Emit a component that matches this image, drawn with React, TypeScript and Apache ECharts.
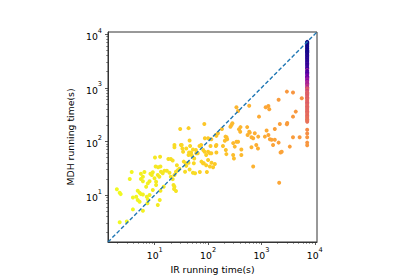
import React, { useEffect, useRef } from "react";
import * as echarts from "echarts";

// IR running time (s), MDH running time (s), colour value (0..1 on plasma_r)
const scatterPoints: [number, number, number][] = [
  [2.2, 3.1, 0], [3.0, 3.2, 0], [1.95, 12.8, 0], [2.2, 11, 0], [2.3, 10.4, 0], [3.7, 27, 0.01], [3.4, 20, 0.01],
  [3.9, 9, 0.01], [3.9, 5.4, 0], [4.8, 12, 0.01], [5.2, 11, 0.01], [5.5, 10.4, 0.01], [6, 10.2, 0.02], [4.8, 8.1, 0.01],
  [5.2, 7.5, 0.01], [5.5, 25, 0.02], [6, 22, 0.02], [6.4, 27, 0.02], [5.5, 20, 0.02], [6, 18, 0.02], [6.9, 14.3, 0.02],
  [7.4, 16.5, 0.02], [8, 18, 0.03], [7.1, 9.3, 0.02], [8, 10, 0.02], [7.4, 8.3, 0.02], [8.3, 25, 0.03], [9.2, 26.5, 0.03],
  [8.8, 23.7, 0.03], [9.9, 20.5, 0.03], [10.6, 17.7, 0.03], [11.4, 23.7, 0.04], [12.2, 22, 0.04], [10.6, 15.4, 0.03],
  [9.2, 12.4, 0.03], [13.1, 27.3, 0.04], [14.1, 25.4, 0.04], [15.2, 28.5, 0.05], [10.1, 50, 0.04], [12.6, 52, 0.05],
  [12.8, 12, 0.04], [14.7, 14.3, 0.04], [6, 5.1, 0.02], [4.5, 9.3, 0.01], [7.3, 7, 0.02], [11.6, 33, 0.04], [10.4, 34, 0.04],
  [12.8, 34, 0.04], [12.4, 8.1, 0.03], [11.4, 6.5, 0.03],
  [16.9, 28.5, 0.05], [18.9, 26, 0.05], [18, 47, 0.06], [20, 47, 0.06], [21.7, 44, 0.06], [20, 22, 0.05], [21.7, 19.8, 0.05],
  [23.4, 23.7, 0.06], [22.5, 15.4, 0.05], [23.4, 14.3, 0.05], [23.4, 86, 0.07], [23.4, 78, 0.07], [25, 27.3, 0.06],
  [27, 29, 0.06], [29, 31, 0.06], [26, 36, 0.06], [32, 86, 0.08], [38.5, 39, 0.07], [37, 27.3, 0.07], [45, 104, 0.09],
  [46, 82, 0.08], [43, 56, 0.08], [48, 62, 0.08], [55, 48, 0.08], [57, 25.4, 0.07], [52, 71, 0.08], [59, 69, 0.09],
  [23, 13, 0.05], [25, 11.9, 0.05], [31, 86, 0.08], [33, 74, 0.08], [34, 64, 0.08], [39, 74, 0.08], [44, 62, 0.08],
  [49, 56, 0.08], [35, 42, 0.07], [39, 35, 0.07], [43, 40, 0.07], [54, 39, 0.08], [45, 30, 0.07], [52, 26, 0.07],
  [30, 170, 0.09], [43, 177, 0.1],
  [64, 60, 0.09], [69, 82, 0.1], [74, 86, 0.1], [86, 64, 0.1], [92, 56, 0.1], [80, 39, 0.09], [92, 36, 0.1], [60, 60, 0.09],
  [75, 42, 0.09], [83, 39, 0.1], [100, 45, 0.1], [81, 69, 0.1], [100, 64, 0.11], [115, 60, 0.11], [70, 27, 0.09],
  [95, 27, 0.1], [108, 34, 0.1], [87, 115, 0.11], [100, 115, 0.11], [115, 110, 0.12], [85, 212, 0.12], [111, 82, 0.11],
  [140, 82, 0.12], [143, 127, 0.12], [108, 60, 0.11], [143, 62, 0.12], [116, 40, 0.11], [134, 38, 0.11], [124, 33, 0.11],
  [140, 132, 0.12], [143, 86, 0.12],
  [190, 82, 0.13], [212, 123, 0.14], [228, 110, 0.14], [206, 103, 0.14], [215, 69, 0.13], [220, 58, 0.13], [295, 93, 0.15],
  [316, 80, 0.15], [340, 99, 0.15], [295, 56, 0.14], [305, 48, 0.14], [420, 71, 0.15], [420, 56, 0.15], [275, 203, 0.15],
  [285, 219, 0.15], [380, 168, 0.16], [400, 152, 0.16], [340, 435, 0.16], [365, 370, 0.16], [153, 142, 0.13],
  [182, 170, 0.14], [222, 120, 0.14], [262, 188, 0.15], [405, 185, 0.16], [365, 99, 0.15],
  [590, 465, 0.17], [540, 185, 0.17], [605, 146, 0.17], [750, 142, 0.18], [650, 78, 0.17], [800, 86, 0.18], [860, 74, 0.18],
  [700, 34, 0.17], [900, 290, 0.19], [1200, 435, 0.2], [1350, 460, 0.2], [1400, 400, 0.2], [1160, 123, 0.19],
  [1250, 160, 0.19], [1350, 132, 0.2], [1440, 110, 0.2], [550, 132, 0.17], [650, 120, 0.17], [870, 123, 0.18],
  [590, 152, 0.17], [700, 115, 0.18],
  [1780, 107, 0.21], [2100, 95, 0.22], [1650, 86, 0.21], [1780, 170, 0.22], [2210, 212, 0.22], [3050, 220, 0.23],
  [2280, 62, 0.21], [2150, 17, 0.2], [3000, 850, 0.24], [3900, 820, 0.25], [4400, 360, 0.24], [3900, 290, 0.24],
  [5700, 640, 0.26], [3000, 210, 0.23], [3900, 120, 0.23], [5200, 120, 0.24], [3400, 80, 0.22], [2100, 600, 0.23],
  [1550, 107, 0.21], [2400, 64, 0.21],
];

// instances where IR hit the time limit
const timeoutIR = 7200;
const timeoutMDH: number[] = [
  7200, 7000, 6700, 6500, 6300, 6000, 5800, 5500, 5300, 5000, 4800, 4600, 4400, 4200, 4000, 3800, 3650, 3500, 3300,
  3150, 3000, 2850, 2700, 2550, 2400, 2300, 2150, 2050, 1950, 1850, 1750, 1650, 1580, 1500, 1420, 1350, 1280, 1220,
  1150, 1090, 1030, 980, 930, 880, 830, 790, 750, 710, 670, 640, 600, 570, 540, 510, 480, 455, 430, 405, 385, 365, 345,
  325, 305, 290, 275, 260, 245, 232, 165, 140, 120, 95, 85,
];
const timeoutColor: number[] = [
  1, 1, 1, 0.98, 1, 0.98, 1, 0.97, 1, 0.98, 0.97, 1, 0.96, 0.98, 0.97, 0.95, 0.97, 0.94, 0.96,
  0.93, 0.95, 0.9, 0.94, 0.92, 0.88, 0.92, 0.66, 0.9, 0.84, 0.88, 0.8, 0.75, 0.82, 0.7, 0.66, 0.72, 0.6, 0.64,
  0.62, 0.56, 0.6, 0.45, 0.42, 0.5, 0.4, 0.43, 0.41, 0.44, 0.4, 0.42, 0.39, 0.41, 0.4, 0.43, 0.4, 0.38, 0.41, 0.39,
  0.4, 0.38, 0.4, 0.37, 0.39, 0.38, 0.36, 0.37, 0.35, 0.36, 0.28, 0.27, 0.25, 0.25, 0.24,
];

const axisMin = 1.33;
const axisMax = 11000;
const majorTicks = [10, 100, 1000, 10000];
const minorTicks = [
  2, 3, 4, 5, 6, 7, 8, 9, 20, 30, 40, 50, 60, 70, 80, 90, 200, 300, 400, 500, 600, 700, 800, 900,
  2000, 3000, 4000, 5000, 6000, 7000, 8000, 9000,
];
const plasmaR = [
  "#f0f921", "#fcce25", "#fca636", "#f2844b", "#e16462", "#cc4778", "#b12a90", "#8f0da4", "#6a00a8", "#41049d", "#0d0887",
];

const FONT = "DejaVu Sans";
const FS = 9.3;

export default function App() {
  const ref = useRef<HTMLDivElement>(null);
  useEffect(() => {
    document.body.style.margin = "0";
    if (!ref.current) return;
    const chart = echarts.init(ref.current, undefined, { renderer: "svg" });
    const timeoutPoints = timeoutMDH.map((y, i) => [timeoutIR, y, timeoutColor[i]]);
    const labelFmt = (v: number) => `{b|10}{s|${Math.round(Math.log10(v))}}`;
    const rich = {
      b: { fontFamily: FONT, fontSize: FS, color: "#000", lineHeight: 14, verticalAlign: "bottom" },
      s: { fontFamily: FONT, fontSize: 6.6, color: "#000", lineHeight: 8, verticalAlign: "top" },
    };
    const lineColor = "#333";
    const mainAxis = (pos: string, name: string, nameGap: number) => ({
      type: "log",
      logBase: 10,
      min: axisMin,
      max: axisMax,
      position: pos,
      name,
      nameLocation: "middle",
      nameGap,
      nameTextStyle: { fontFamily: FONT, fontSize: FS, color: "#000" },
      axisLine: { show: true, lineStyle: { color: lineColor, width: 1 } },
      axisTick: { show: true, inside: false, length: 3, customValues: majorTicks, lineStyle: { color: lineColor, width: 0.8 } },
      minorTick: { show: false },
      splitLine: { show: false },
      axisLabel: {
        customValues: majorTicks,
        formatter: labelFmt,
        rich,
        margin: pos === "left" ? 6 : 4,
      },
    });
    const minorAxis = (pos: string) => ({
      type: "log",
      logBase: 10,
      min: axisMin,
      max: axisMax,
      position: pos,
      axisLine: { show: false },
      axisTick: { show: true, inside: false, length: 1.8, customValues: minorTicks, lineStyle: { color: lineColor, width: 0.6 } },
      axisLabel: { show: false },
      splitLine: { show: false },
    });
    chart.setOption({
      animation: false,
      grid: {
        left: 108,
        top: 32,
        width: 209,
        height: 210,
        show: true,
        borderColor: lineColor,
        borderWidth: 1,
        backgroundColor: "transparent",
        containLabel: false,
        outerBoundsMode: "none",
      },
      xAxis: [mainAxis("bottom", "IR running time(s)", 17), minorAxis("bottom")],
      yAxis: [mainAxis("left", "MDH running time(s)", 27), minorAxis("left")],
      visualMap: {
        show: false,
        type: "continuous",
        dimension: 2,
        min: 0,
        max: 1,
        seriesIndex: [0, 1],
        inRange: { color: plasmaR },
      },
      series: [
        {
          type: "scatter",
          data: scatterPoints,
          symbolSize: 4,
          itemStyle: { opacity: 1 },
          z: 2,
        },
        {
          type: "scatter",
          data: timeoutPoints,
          symbolSize: 4,
          itemStyle: { opacity: 1 },
          z: 2,
        },
        {
          type: "line",
          data: [[axisMin, axisMin], [axisMax, axisMax]],
          symbol: "none",
          lineStyle: { color: "#1f77b4", width: 1.4, type: [4, 2.2] },
          z: 3,
        },
      ],
    } as any);
    return () => chart.dispose();
  }, []);
  return <div ref={ref} style={{ width: 415, height: 277 }} />;
}
